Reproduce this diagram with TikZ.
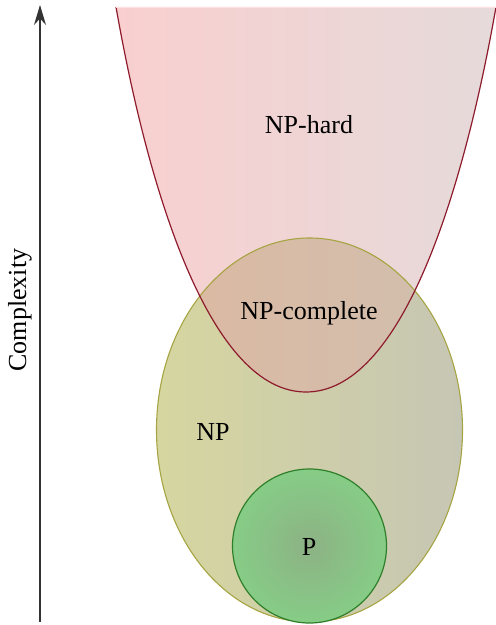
\documentclass[tikz,border=0pt]{standalone}
\usepackage{fontspec}
\setmainfont{Liberation Serif}
\usetikzlibrary{arrows.meta}
\definecolor{hardline}{HTML}{8E1B2C}
\definecolor{hardleft}{HTML}{F9CFCF}
\definecolor{hardright}{HTML}{E6DADA}
\definecolor{npline}{HTML}{A6A443}
\definecolor{npleft}{HTML}{D6D6A0}
\definecolor{npright}{HTML}{C6C6B4}
\definecolor{bothleft}{HTML}{DEB89F}
\definecolor{bothright}{HTML}{CFC0B0}
\definecolor{pline}{HTML}{2F7F2A}
\definecolor{pinner}{HTML}{8DB285}
\definecolor{pouter}{HTML}{86CC86}

\begin{document}
\begin{tikzpicture}[x=0.5pt, y=-0.5pt, font=\fontsize{13}{15}\selectfont,
        bowl/.style={insert path={(116,7) .. controls (150,200) and (212,392) .. (306,392)
            .. controls (400,392) and (462,200) .. (496,7)}}]
        \useasboundingbox (0,0) rectangle (496,625);

        % NP (ellipse)
        \shade[left color=npleft, right color=npright]
            (309.5,430) ellipse [x radius=153, y radius=192];

        % NP-hard (open bowl, cut off at the top)
        \shade[left color=hardleft, right color=hardright] [bowl] -- cycle;

        % NP-complete = overlap
        \begin{scope}
            \clip (309.5,430) ellipse [x radius=153, y radius=192];
            \shade[left color=bothleft, right color=bothright] [bowl] -- cycle;
        \end{scope}

        \draw[npline, line width=0.55pt] (309.5,430) ellipse [x radius=153, y radius=192];
        \draw[hardline, line width=0.6pt] [bowl];
        \draw[red!12] (116,7) -- (496,7);

        % P (circle)
        \shade[inner color=pinner, outer color=pouter] (309.5,546) circle [radius=77];
        \draw[pline, line width=0.6pt] (309.5,546) circle [radius=77];

        % Complexity axis
        \draw[-{Stealth[length=10pt,width=6pt]}, black!80, line width=0.7pt] (40,622) -- (40,5);
        \node[rotate=90] (cplx) at (20,310) {Complexity};

        % Labels
        \node (hard) at (309,125) {NP-hard};
        \node (compl) at (309,313) {NP-complete};
        \node (np) at (213,432) {NP};
        \node (p) at (309,547) {P};
\end{tikzpicture}
\end{document}
